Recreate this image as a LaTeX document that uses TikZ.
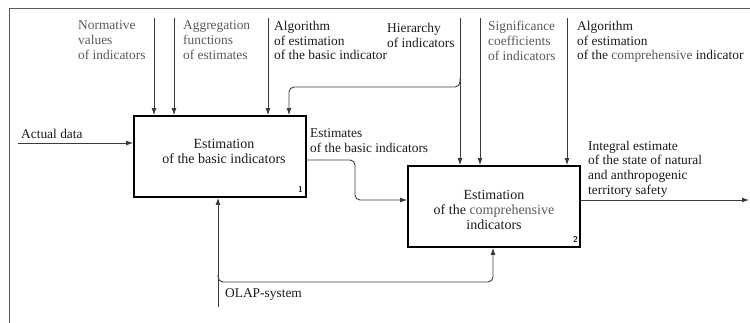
\documentclass[tikz,border=0pt]{standalone}
\usepackage{fontspec}
\setmainfont{Liberation Serif}
\usetikzlibrary{arrows.meta}
\definecolor{ink}{HTML}{1A1A1A}
\definecolor{soft}{HTML}{5A5A5A}
\definecolor{wire}{HTML}{3C3C3C}
\begin{document}
\begin{tikzpicture}[x=1pt,y=-1pt,
  lab/.style={anchor=north west,inner sep=0pt,align=left,text=ink,font=\fontsize{13.4}{14.8}\selectfont},
  glab/.style={lab,text=soft},
  proc/.style={draw=black,line width=1.8pt,minimum width=172pt,minimum height=81pt,inner sep=0pt},
  ptext/.style={anchor=north,inner sep=0pt,align=center,text=ink,font=\fontsize{14}{15}\selectfont},
  num/.style={anchor=base east,inner sep=0pt,font=\sffamily\bfseries\fontsize{8.5}{9}\selectfont,text=ink},
  arr/.style={draw=wire,line width=0.9pt,-{Latex[length=7pt,width=5pt]}},
  wire/.style={draw=wire,line width=0.9pt},
  frame/.style={draw=soft,line width=1pt}]
\useasboundingbox (0,0) rectangle (750,323);
\fill[white] (0,0) rectangle (750,323);
% frame
\coordinate (fr1) at (9,323);
\coordinate (fr2) at (9,9);
\coordinate (fr3) at (750,9);
\draw[frame] (fr1) -- (fr2) -- (fr3);
% boxes
\node[proc] (b1) at (220,156.5) {};
\node[proc] (b2) at (494,206.5) {};
\node[ptext] (t1) at (224,139) {Estimation\\of the basic indicators};
\node[ptext] (t2) at (494,190) {Estimation\\of the {\color{soft}comprehensive}\\indicators};
\node[num] (n1) at (303,193) {1};
\node[num] (n2) at (578,243) {2};
% top labels
\node[glab] (l1) at (78,20.8) {Normative\\values\\of indicators};
\node[glab] (l2) at (183,20.8) {Aggregation\\functions\\of estimates};
\node[lab] (l3) at (274,20.8) {Algorithm\\of estimation\\of the basic indicator};
\node[lab] (l4) at (387,22.8) {Hierarchy\\of indicators};
\node[glab] (l5) at (488,20.8) {Significance\\coefficients\\of indicators};
\node[lab] (l6) at (577,20.8) {Algorithm\\of estimation\\of the {\color{soft}comprehensive} indicator};
% other labels
\node[lab] (la) at (21,128.7) {Actual data};
\node[lab] (le) at (310,128.7) {Estimates\\of the basic indicators};
\node[lab] (li) at (588,140.7) {Integral estimate\\of the state of natural\\and anthropogenic\\territory safety};
\node[lab] (lo) at (225,288.7) {OLAP-system};
% control arrows into box 1
\coordinate (c1) at (154,18);
\coordinate (c2) at (174,18);
\coordinate (c3) at (268,18);
\coordinate (h0) at (460,18);
\coordinate (h1) at (460,78);
\coordinate (h2) at (460,87);
\coordinate (h3) at (289,87);
\draw[arr] (c1) -- (c1 |- b1.north);
\draw[arr] (c2) -- (c2 |- b1.north);
\draw[arr] (c3) -- (c3 |- b1.north);
\draw[arr] (h0) -- (h0 |- b2.north);
\draw[arr,rounded corners=5pt] (h1) -- (h2) -- (h3) -- (h3 |- b1.north);
% control arrows into box 2
\coordinate (s1) at (480,18);
\coordinate (s2) at (567,18);
\draw[arr] (s1) -- (s1 |- b2.north);
\draw[arr] (s2) -- (s2 |- b2.north);
% input
\coordinate (in) at (18,143);
\draw[arr] (in) -- (in -| b1.west);
% estimates
\coordinate (e0) at (306,160);
\coordinate (e1) at (355,160);
\coordinate (e2) at (355,200);
\draw[arr,rounded corners=5pt] (e0 -| b1.east) -- (e1) -- (e2) -- (e2 -| b2.west);
% output
\coordinate (out) at (749,200);
\draw[arr] (out -| b2.east) -- (out);
% mechanism
\coordinate (m0) at (218,307);
\coordinate (m1) at (218,275);
\coordinate (m2) at (218,282);
\coordinate (m3) at (493,282);
\draw[arr] (m0) -- (m0 |- b1.south);
\draw[arr,rounded corners=5pt] (m1) -- (m2) -- (m3) -- (m3 |- b2.south);
\end{tikzpicture}
\end{document}
